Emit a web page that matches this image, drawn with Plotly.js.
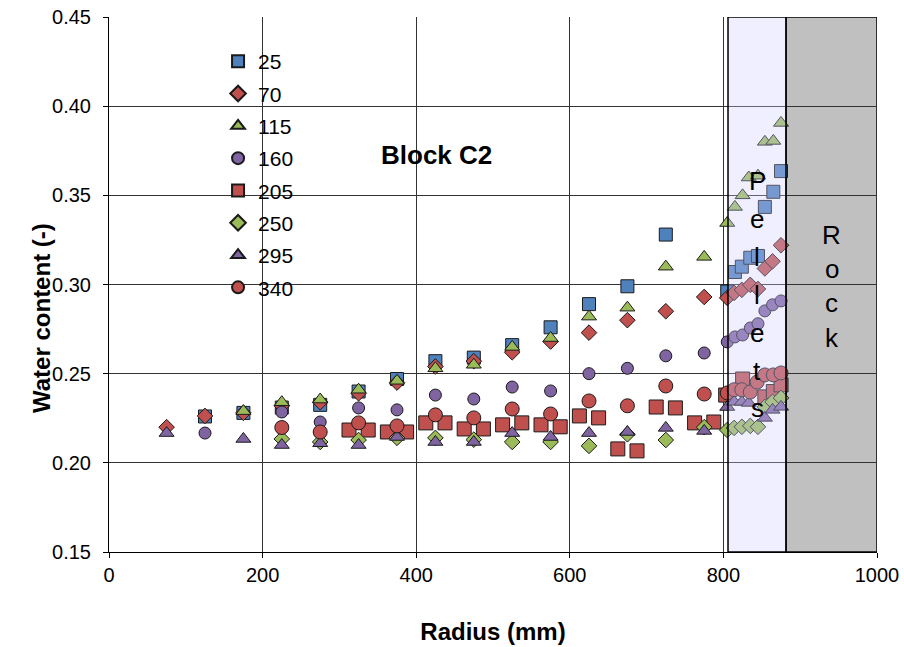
<!DOCTYPE html>
<html>
<head>
<meta charset="utf-8">
<script src="https://cdn.plot.ly/plotly-3.0.1.min.js"></script>
<style>html,body{margin:0;padding:0;background:#fff;}#chart{width:904px;height:647px;}</style>
</head>
<body>
<div id="chart"></div>
<script>
// ---- data (radius in mm, water content -) ----
const seriesNames = ["25","70","115","160","205","250","295","340"];

const x25 = [125,175,225,275,325,375,425,475,525,575,625,675,725,805,815,824,835,845,854,865,875];
const y25 = [0.226,0.228,0.231,0.2325,0.240,0.247,0.257,0.259,0.266,0.276,0.289,0.299,0.328,0.296,0.307,0.310,0.315,0.316,0.3435,0.352,0.3636];

const x70 = [75,125,175,225,275,325,375,425,475,525,575,625,675,725,775,805,814,824,835,845,854,864,875];
const y70 = [0.220,0.2263,0.228,0.232,0.234,0.239,0.245,0.254,0.257,0.262,0.268,0.273,0.280,0.285,0.293,0.2925,0.2953,0.297,0.2998,0.2975,0.309,0.313,0.322];

const x115 = [175,225,275,325,375,425,475,525,575,625,675,725,775,805,815,825,833,845,854,865,875];
const y115 = [0.229,0.234,0.2355,0.241,0.246,0.253,0.255,0.265,0.270,0.282,0.287,0.310,0.3155,0.3345,0.3435,0.350,0.360,0.361,0.380,0.3805,0.3906];

const x160 = [125,225,275,325,375,425,475,525,575,625,675,725,775,805,815,825,835,845,854,864,875];
const y160 = [0.2167,0.2285,0.2229,0.2308,0.2297,0.238,0.2358,0.2425,0.2403,0.250,0.253,0.260,0.2616,0.2678,0.2706,0.2717,0.2756,0.278,0.2852,0.2886,0.2908];

const x205 = [312.5,337.5,362.5,387.5,412.5,437.5,462.5,487.5,512.5,537.5,562.5,587.5,612.5,637.5,662.5,687.5,712.5,737.5,762.5,787.5,803,825,854,865,875];
const y205 = [0.2184,0.2184,0.2173,0.2173,0.2224,0.2224,0.219,0.219,0.2213,0.2224,0.2213,0.2202,0.2263,0.2252,0.2078,0.2067,0.2313,0.2308,0.2224,0.2229,0.238,0.247,0.237,0.240,0.2437];

const x250 = [225,275,325,375,425,475,525,575,625,675,725,775,805,814,824,835,845,854,864,875];
const y250 = [0.2134,0.2117,0.2128,0.214,0.214,0.213,0.2117,0.2117,0.2095,0.216,0.2128,0.220,0.2184,0.2196,0.2202,0.2207,0.2202,0.2314,0.2342,0.2364];

const x295 = [75,175,225,275,325,375,425,475,525,575,625,675,725,775,805,814,824,833,854,864,875];
const y295 = [0.2167,0.2134,0.210,0.211,0.210,0.2145,0.2117,0.2117,0.2167,0.2145,0.2167,0.2173,0.2196,0.2179,0.2313,0.2342,0.2342,0.2336,0.2252,0.2297,0.2314];

const x340 = [225,275,325,375,425,475,525,575,625,675,725,775,805,814,824,835,844,854,865,875];
const y340 = [0.2198,0.2173,0.2224,0.2207,0.2269,0.2252,0.2302,0.2274,0.2347,0.232,0.2431,0.2386,0.2392,0.241,0.241,0.2397,0.2453,0.2493,0.2493,0.2504];

const xTicks = [0,200,400,600,800,1000];
const yTicks = [0.15,0.20,0.25,0.30,0.35,0.40,0.45];

// zones
const pelletsZone = [806, 881.5];
const rockZone = [881.5, 1000];
const pelletsLabel = "Pellets";
const rockLabel = "Rock";
const blockLabel = "Block C2";

// ---- styles ----
const BLUE = "#4F81BD", RED = "#C0504D", GREEN = "#9BBB59", PURPLE = "#8064A2";
const styles = [
  {color: BLUE,   symbol: "square",        size: 13},
  {color: RED,    symbol: "diamond",       size: 12},
  {color: GREEN,  symbol: "triangle-up",   size: 13},
  {color: PURPLE, symbol: "circle",        size: 12},
  {color: RED,    symbol: "square",        size: 14},
  {color: GREEN,  symbol: "diamond",       size: 12},
  {color: PURPLE, symbol: "triangle-up",   size: 13},
  {color: RED,    symbol: "circle",        size: 14}
];
const xs = [x25,x70,x115,x160,x205,x250,x295,x340];
const ys = [y25,y70,y115,y160,y205,y250,y295,y340];

const traces = seriesNames.map((n,i) => ({
  type: "scatter", mode: "markers", name: n,
  x: xs[i], y: ys[i],
  legendgroup: "g"+i,
  marker: {color: styles[i].color, symbol: styles[i].symbol, size: styles[i].size,
           line: {color: "#1a1a1a", width: 1}},
  hoverinfo: "x+y"
}));

const F = "Liberation Sans, Arial, sans-serif";
const annotations = [];
pelletsLabel.split("").forEach((ch, k) => {
  annotations.push({x: (pelletsZone[0]+pelletsZone[1])/2, y: 0.358 - k*0.02125, xref: "x", yref: "y",
    text: ch, showarrow: false, font: {family: F, size: 26, color: "#000"}});
});
rockLabel.split("").forEach((ch, k) => {
  annotations.push({x: (rockZone[0]+rockZone[1])/2, y: 0.3278 - k*0.0192, xref: "x", yref: "y",
    text: ch, showarrow: false, font: {family: F, size: 26, color: "#000"}});
});
annotations.push({x: 427, y: 0.3726, xref: "x", yref: "y", text: "<b>" + blockLabel + "</b>",
  showarrow: false, font: {family: F, size: 26, color: "#000"}});
// y-axis title (placed like the original, slightly below centre)
annotations.push({x: -0.109, y: 0.437, xref: "paper", yref: "paper", textangle: -90,
  text: "<b>Water content (-)</b>", showarrow: false, font: {family: F, size: 24, color: "#000"}});

const layout = {
  width: 904, height: 647,
  margin: {l: 109, r: 27, t: 17, b: 95},
  paper_bgcolor: "#fff", plot_bgcolor: "#fff",
  font: {family: F, size: 20, color: "#000"},
  showlegend: true,
  legend: {x: 0.142, y: 0.955, xanchor: "left", yanchor: "top", bgcolor: "rgba(0,0,0,0)",
           font: {family: F, size: 21, color: "#000"}, tracegroupgap: 2, itemwidth: 30,
           itemsizing: "constant"},
  xaxis: {range: [0, 1000], tickvals: xTicks, ticktext: xTicks.map(String),
          showgrid: true, gridcolor: "#333", gridwidth: 1, zeroline: false,
          showline: true, linecolor: "#000", linewidth: 1, ticks: "outside", ticklen: 5, tickcolor: "#000",
          tickfont: {family: F, size: 20},
          title: {text: "<b>Radius (mm)</b>", font: {family: F, size: 24}, standoff: 38}},
  yaxis: {range: [0.15, 0.45], tickvals: yTicks, ticktext: yTicks.map(v => v.toFixed(2)),
          showgrid: true, gridcolor: "#333", gridwidth: 1, zeroline: false,
          showline: true, linecolor: "#000", linewidth: 1, ticks: "outside", ticklen: 5, tickcolor: "#000",
          tickfont: {family: F, size: 20}, ticklabelstandoff: 8},
  shapes: [
    {type: "rect", xref: "x", yref: "y", x0: rockZone[0], x1: rockZone[1], y0: 0.15, y1: 0.45,
     fillcolor: "#C0C0C0", line: {color: "#000", width: 1.5}, layer: "below"},
    {type: "rect", xref: "x", yref: "y", x0: pelletsZone[0], x1: pelletsZone[1], y0: 0.15, y1: 0.45,
     fillcolor: "rgba(204,204,255,0.32)", line: {color: "#000", width: 1.5}, layer: "above"}
  ],
  annotations: annotations
};

Plotly.newPlot("chart", traces, layout, {displayModeBar: false, staticPlot: true});
</script>
</body>
</html>
